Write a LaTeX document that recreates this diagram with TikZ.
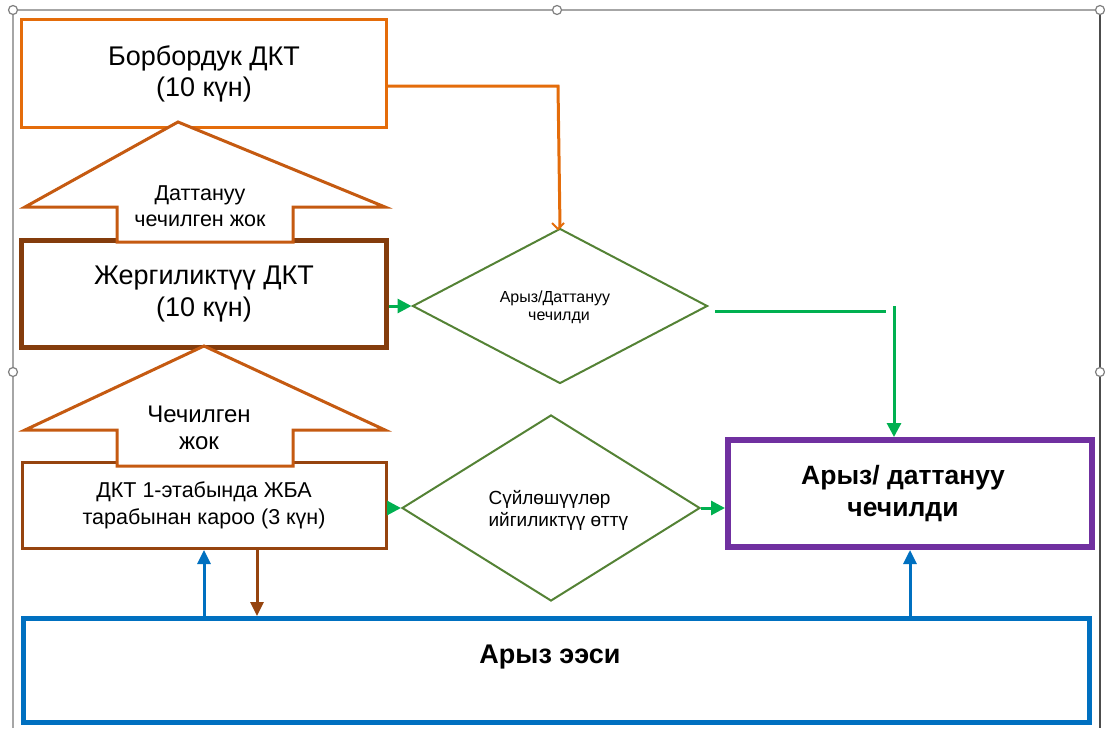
\documentclass[tikz,border=0pt]{standalone}
\usepackage{fontspec}
\setmainfont{Liberation Sans}
\usetikzlibrary{shapes.geometric,arrows.meta}
\definecolor{orBox}{HTML}{E46C0A}
\definecolor{orArr}{HTML}{C55A11}
\definecolor{brDark}{HTML}{843C0C}
\definecolor{brMid}{HTML}{96440F}
\definecolor{dGreen}{HTML}{548235}
\definecolor{bGreen}{HTML}{00B050}
\definecolor{purp}{HTML}{7030A0}
\definecolor{blu}{HTML}{0070C0}
\definecolor{frameGrey}{HTML}{A6A6A6}
\tikzset{
  boxnode/.style={draw, fill=white, rectangle, inner sep=0pt, align=center},
  decision/.style={draw=dGreen, line width=2pt, diamond, inner sep=0pt},
  upshape/.style={draw=orArr, fill=white, line width=3pt, line join=miter},
  garrow/.style={draw=bGreen, line width=3pt, -{Triangle[length=14pt,width=14pt]}},
  barrow/.style={draw=blu, line width=3pt, -{Triangle[length=14pt,width=13pt]}},
  brarrow/.style={draw=brMid, line width=3pt, -{Triangle[length=14pt,width=13pt]}},
  oline/.style={draw=orBox, line width=3pt},
  handle/.style={draw=gray, fill=white, line width=1.2pt, circle, inner sep=0pt, minimum size=9pt},
}
\begin{document}
\begin{tikzpicture}[x=1pt,y=-1pt]
\useasboundingbox (0,0) rectangle (1105,728);
% selection frame
\draw[frameGrey, line width=1.5pt] (13,728) -- (13,10) -- (1100,10);
\draw[gray!140, line width=1.2pt] (1100,10) -- (1100,728);
\node[handle] (h1) at (13,10) {};
\node[handle] (h2) at (557,10) {};
\node[handle] (h3) at (1100,10) {};
\node[handle] (h4) at (13,372) {};
\node[handle] (h5) at (1100,372) {};

% boxes
\node[boxnode, draw=orBox, line width=3pt, minimum width=365pt, minimum height=108pt,
  font=\fontsize{27}{31}\selectfont] (borbor) at (204,73.5) {Борбордук ДКТ\\(10 күн)};
\node[boxnode, draw=brDark, line width=5pt, minimum width=365pt, minimum height=107pt,
  font=\fontsize{27}{32}\selectfont] (jergil) at (204,294) {\raisebox{-2pt}{\parbox{340pt}{\centering Жергиликтүү ДКТ\\(10 күн)}}};
\node[boxnode, draw=brMid, line width=3pt, minimum width=364pt, minimum height=86pt,
  font=\fontsize{21.5}{27}\selectfont] (dkt) at (204,505.5) {\raisebox{-2pt}{\parbox{340pt}{\centering ДКТ 1-этабында ЖБА\\тарабынан кароо (3 күн)}}};
\node[boxnode, draw=purp, line width=6pt, minimum width=364pt, minimum height=107pt] (purbox) at (910,493.5) {};
\node[align=center, font=\bfseries\fontsize{26.5}{32}\selectfont] (purtxt) at (903,494) {Арыз/ даттануу\\чечилди};
\node[boxnode, draw=blu, line width=5pt, minimum width=1066pt, minimum height=104pt] (ariz) at (556.5,670.5) {};
\node[font=\bfseries\fontsize{27}{30}\selectfont] (ariztxt) at (550,657) {Арыз ээси};

% up arrows (shapes)
\draw[upshape] (178,122) -- (385,207) -- (293,207) -- (293,242) -- (117,242) -- (117,207) -- (25,207) -- cycle;
\node[align=center, font=\fontsize{21.5}{26}\selectfont] (lab1) at (200,206) {Даттануу\\чечилген жок};
\draw[upshape] (204,346) -- (385,430) -- (293,430) -- (293,466) -- (117,466) -- (117,430) -- (25,430) -- cycle;
\node[align=center, font=\fontsize{24}{27}\selectfont] (lab2) at (199,428) {Чечилген\\жок};

% decisions
\node[decision, minimum width=295pt, minimum height=155pt] (d1) at (560,306) {};
\node[align=center, font=\fontsize{16}{18}\selectfont] (d1txt) at (555,307) {Арыз/Даттануу\\\hspace*{8pt}чечилди};
\node[decision, minimum width=298pt, minimum height=186pt] (d2) at (551,508) {};
\node[align=left, anchor=west, font=\fontsize{19}{22}\selectfont] (d2txt) at (485,510) {Сүйлөшүүлөр\\ийгиликтүү өттү};

% connectors
\coordinate (oc) at (558,86);
\draw[oline] (borbor.east |- oc) -- (oc) -- (d1.north);
\draw[orBox, line width=2pt] (552,223) -- (558,229) -- (564,223);
\draw[garrow] (jergil.east |- d1.west) -- (d1.west);
\coordinate (g1) at (715,311);
\coordinate (g2) at (886,311);
\coordinate (g3) at (894,306);
\draw[bGreen, line width=3pt] (g1) -- (g2);
\draw[garrow] (g3) -- (g3 |- purbox.north);
\draw[garrow] (dkt.east |- d2.west) -- (d2.west);
\draw[garrow] (d2.east) -- (purbox.west |- d2.east);
\coordinate (b1) at (204,616);
\draw[barrow] (b1) -- (b1 |- dkt.south);
\coordinate (b2) at (257,550);
\draw[brarrow] (b2) -- (b2 |- ariz.north);
\coordinate (b3) at (910,616);
\draw[barrow] (b3) -- (b3 |- purbox.south);
\end{tikzpicture}
\end{document}
